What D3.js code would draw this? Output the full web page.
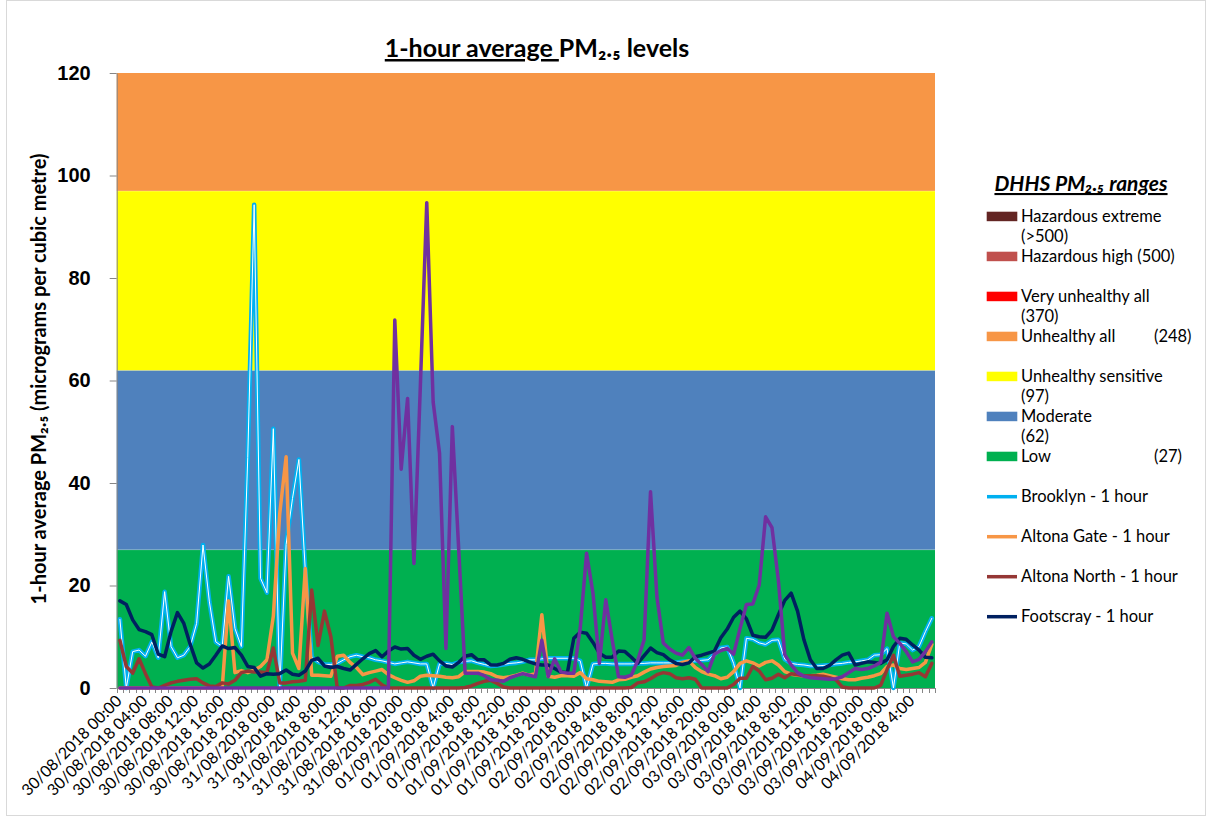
<!DOCTYPE html>
<html>
<head>
<meta charset="utf-8">
<script src="https://cdnjs.cloudflare.com/ajax/libs/d3/7.8.5/d3.min.js"></script>
<style>
    body { margin: 0; background: #fff; }
    svg { display: block; font-family: Lato, "Open Sans", sans-serif; }
    .yAxis text { font-size: 20px; font-weight: bold; fill: #000; }
    .yAxis path, .yAxis line { stroke: #868686; }
    .xTick { stroke: #868686; shape-rendering: crispEdges; }
    .xLabel { font-size: 16px; fill: #000; }
    .legend text { font-size: 16.5px; fill: #000; }
</style>
</head>
<body>
<div id="chart"></div>
<script>
    // hourly PM2.5 from 30/08/2018 00:00 (128 hours)
    var brooklyn = [13.4, 0, 7.1, 7.4, 6.2, 9.0, 5.9, 18.8, 8.1, 5.9, 6.4, 8.1, 12.6, 27.9, 16.8, 9.0,
        8.1, 21.8, 11.6, 8.1, 45, 94.3, 21.4, 18.6, 50.6, 0, 28, 37, 44.6, 23, 6.0, 5.1,
        4.6, 4.6, 4.8, 5.5, 6.1, 6.4, 6.1, 5.9, 5.5, 5.3, 5.0, 4.7, 4.9, 5.1, 4.9, 4.7,
        4.7, 0, 4.7, 4.8, 4.6, 5.0, 5.2, 5.3, 4.9, 4.6, 4.3, 4.4, 4.6, 4.8, 4.9, 5.1,
        5.5, 5.5, 5.7, 5.8, 5.8, 5.8, 5.8, 5.8, 5.3, 0, 4.7, 4.8, 4.8, 4.7, 4.7, 4.7,
        4.7, 4.8, 4.8, 4.9, 4.9, 4.9, 4.9, 5.0, 5.1, 5.2, 5.3, 5.4, 5.5, 6.6, 7.8, 8.0,
        4.8, 0, 9.7, 9.5, 8.8, 8.5, 9.3, 9.4, 5.6, 4.8, 4.6, 4.5, 4.3, 4.3, 4.4, 4.5,
        4.7, 4.8, 5.0, 5.1, 5.3, 5.5, 6.4, 6.5, 7.7, 0, 8.8, 8.6, 7.4, 8.1, 11.0, 13.6];

    var altonaGate = [0, 0, 0, 0, 0, 0, 0, 0, 0, 0, 0, 0, 0, 0, 0, 0,
        0, 17.0, 3.0, 3.4, 3.0, 3.5, 4.2, 5.5, 14, 34, 45.1, 6.8, 3.8, 23.3, 2.5, 2.5,
        2.4, 2.3, 6.2, 6.4, 5.0, 4.0, 2.6, 3.0, 3.3, 3.6, 2.6, 2.0, 1.5, 1.1, 1.4, 2.3,
        2.5, 2.4, 2.3, 2.1, 2.0, 2.2, 3.2, 3.2, 3.2, 3.1, 2.8, 2.2, 2.0, 2.2, 2.5, 2.9,
        2.5, 2.8, 14.3, 2.3, 2.1, 2.4, 2.4, 2.3, 3.0, 1.8, 1.6, 1.3, 1.2, 1.1, 1.6, 1.7,
        2.1, 2.4, 3.1, 3.7, 4.0, 4.2, 4.3, 4.4, 5.0, 5.3, 4.0, 3.2, 2.7, 2.4, 1.8, 2.1,
        3.2, 4.8, 5.3, 4.9, 4.3, 5.0, 5.3, 4.5, 3.2, 2.7, 2.5, 2.4, 2.4, 2.5, 2.7, 2.4,
        2.1, 1.8, 1.6, 1.6, 1.9, 2.1, 2.4, 2.8, 4.2, 4.5, 3.8, 3.6, 3.8, 4.0, 5.0, 8.5];

    var altonaNorth = [9.3, 4.2, 2.9, 5.7, 2.8, 0.2, 0, 0.5, 1.0, 1.3, 1.5, 1.7, 1.8, 1.0, 0.4, 0.3,
        1.0, 0.8, 1.5, 3.0, 3.3, 3.1, 3.1, 3.0, 7.8, 1.0, 1.0, 1.2, 1.3, 1.5, 19.1, 8.3,
        15.0, 10.0, 0, 0, 0.5, 0.5, 0.7, 1.1, 1.7, 0.6, 0, 0, 0, 0, 0, 0,
        0, 0, 0, 0, 0, 0, 0.1, 0.4, 0.9, 1.3, 1.5, 0.9, 0.2, 0, 0, 0,
        0, 0, 0, 0, 0, 0, 0, 0, 0, 0, 0, 0, 0, 0, 0, 0,
        0.1, 1.0, 1.2, 1.8, 2.6, 3.0, 2.8, 2.0, 1.8, 2.0, 1.7, 0, 0, 0, 0, 0,
        0.7, 1.9, 1.9, 4.2, 3.3, 1.6, 1.9, 2.7, 2.0, 2.8, 2.6, 2.4, 2.4, 2.4, 2.3, 2.0,
        1.6, 0.2, 0, 0, 0, 0, 0, 0.5, 3.6, 6.4, 2.3, 2.5, 2.7, 3.0, 2.2, 4.8];

    var footscray = [17.0, 16.3, 13.3, 11.4, 11.0, 10.4, 6.6, 6.1, 11.0, 14.7, 12.6, 8.5, 4.9, 3.9, 4.7, 6.4,
        8.2, 7.7, 7.9, 6.4, 4.2, 4.0, 2.3, 2.8, 2.7, 2.8, 3.5, 2.7, 2.5, 3.3, 5.4, 5.8,
        4.3, 4.0, 4.2, 3.8, 3.5, 4.6, 5.7, 6.7, 7.3, 6.1, 7.2, 8.0, 7.6, 7.7, 6.4, 5.6,
        6.2, 6.6, 5.3, 4.3, 4.1, 5.0, 6.2, 6.5, 5.5, 5.5, 4.5, 4.5, 4.8, 5.6, 5.9, 5.6,
        5.1, 4.7, 4.5, 4.5, 3.8, 3.1, 3.0, 9.7, 10.9, 10.7, 8.9, 6.8, 6.0, 6.0, 7.2, 7.1,
        6.0, 4.8, 6.3, 7.8, 6.9, 6.5, 5.5, 4.8, 4.6, 4.9, 6.1, 6.4, 6.8, 7.2, 9.8, 11.5,
        13.8, 15.0, 13.5, 10.3, 10.0, 9.9, 11.3, 14.3, 17.1, 18.5, 15.0, 9.4, 5.5, 3.8, 3.8, 4.4,
        5.5, 6.4, 6.8, 4.5, 4.8, 5.1, 5.0, 4.8, 5.5, 8.1, 9.7, 9.5, 8.4, 7.4, 6.0, 5.9];

    // fifth station, drawn in purple, not in the legend
    var purple = [0, 0, 0, 0, 0, 0, 0, 0, 0, 0, 0, 0, 0, 0, 0, 0,
        0, 0, 0, 0, 0, 0, 0, 0, 0, 0, 0, 0, 0, 0, 0, 0,
        0, 0, 0, 0, 0, 0, 0, 0, 0, 0, 0, 71.8, 42.7, 56.5, 24.3, 59,
        94.7, 55.8, 45.8, 7.7, 51.0, 27, 2.9, 2.9, 2.9, 2.4, 1.6, 1.5, 1.3, 2.0, 2.4, 2.8,
        2.5, 2.2, 9.3, 2.2, 5.7, 3.1, 2.9, 2.9, 11.6, 26.3, 18.5, 4.8, 17.2, 9.4, 2.2, 2.1,
        2.5, 5.4, 9.4, 38.3, 17.8, 8.8, 7.6, 6.8, 6.4, 7.9, 5.8, 4.6, 3.2, 6.6, 7.3, 7.7,
        6.6, 11.6, 16.3, 16.4, 20.1, 33.4, 31.3, 21, 6.5, 4.5, 3.0, 2.3, 2.0, 1.9, 1.8, 1.7,
        1.8, 2.2, 3.0, 3.8, 3.6, 3.8, 4.3, 5.0, 14.6, 10.0, 8.7, 7.1, 5.1, 5.6, 7.1, 9.0];

    // one label every 4 hours
    var tickLabels = [
        "30/08/2018 00:00", "30/08/2018 04:00", "30/08/2018 08:00", "30/08/2018 12:00", "30/08/2018 16:00", "30/08/2018 20:00",
        "31/08/2018 0:00", "31/08/2018 4:00", "31/08/2018 8:00", "31/08/2018 12:00", "31/08/2018 16:00", "31/08/2018 20:00",
        "01/09/2018 0:00", "01/09/2018 4:00", "01/09/2018 8:00", "01/09/2018 12:00", "01/09/2018 16:00", "01/09/2018 20:00",
        "02/09/2018 0:00", "02/09/2018 4:00", "02/09/2018 8:00", "02/09/2018 12:00", "02/09/2018 16:00", "02/09/2018 20:00",
        "03/09/2018 0:00", "03/09/2018 4:00", "03/09/2018 8:00", "03/09/2018 12:00", "03/09/2018 16:00", "03/09/2018 20:00",
        "04/09/2018 0:00", "04/09/2018 4:00"];

    // DHHS bands drawn behind the lines
    var bandNames = ["Low", "Moderate", "Unhealthy sensitive", "Unhealthy all"];
    var bandLower = [0, 27, 62, 97];
    var bandUpper = [27, 62, 97, 248];

    var legendRanges = [
        ["Hazardous extreme", "(>500)"],
        ["Hazardous high (500)"],
        ["Very unhealthy all", "(370)"],
        ["Unhealthy all", "(248)"],
        ["Unhealthy sensitive", "(97)"],
        ["Moderate", "(62)"],
        ["Low", "(27)"]];
    var seriesNames = ["Brooklyn - 1 hour", "Altona Gate - 1 hour", "Altona North - 1 hour", "Footscray - 1 hour"];

    var bandColors = ["#00B050", "#4F81BD", "#FFFF00", "#F79646"];
    var legendColors = ["#632523", "#C0504D", "#FF0000", "#F79646", "#FFFF00", "#4F81BD", "#00B050"];
    var lineColors = ["#00B0F0", "#F79646", "#953735", "#002060"];

    var width = 1208, height = 818;
    var plot = { left: 116.7, right: 935, top: 73, bottom: 688 };

    var svg = d3.select("#chart").append("svg")
        .attr("width", width)
        .attr("height", height);

    // chart border
    svg.append("rect")
        .attr("x", 6.5).attr("y", 0.5)
        .attr("width", width - 9).attr("height", height - 3)
        .attr("fill", "#fff")
        .attr("stroke", "#D9D9D9");

    var x = d3.scaleBand().domain(d3.range(brooklyn.length)).range([plot.left, plot.right]);
    var cx = function (i) { return x(i) + x.bandwidth() / 2; };
    var y = d3.scaleLinear().domain([0, 120]).range([plot.bottom, plot.top]);

    // coloured bands
    var bands = svg.append("g").attr("class", "bands");
    bandNames.forEach(function (name, k) {
        var top = y(Math.min(bandUpper[k], 120));
        bands.append("rect")
            .attr("x", plot.left)
            .attr("y", top)
            .attr("width", plot.right - plot.left)
            .attr("height", y(bandLower[k]) - top)
            .attr("fill", bandColors[k]);
        if (bandUpper[k] < 120) {
            bands.append("line")
                .attr("x1", plot.left).attr("x2", plot.right)
                .attr("y1", top).attr("y2", top)
                .attr("stroke", "rgba(255,255,255,0.45)")
                .attr("stroke-width", 1);
        }
    });

    // y axis
    svg.append("g")
        .attr("class", "yAxis")
        .attr("transform", "translate(" + plot.left + ",0)")
        .call(d3.axisLeft(y).tickValues(d3.range(0, 121, 20)).tickSize(7).tickPadding(19).tickSizeOuter(0));

    // x axis with a tick at every category boundary
    svg.append("line")
        .attr("class", "xTick")
        .attr("x1", plot.left).attr("x2", plot.right)
        .attr("y1", plot.bottom).attr("y2", plot.bottom);
    var bounds = d3.range(brooklyn.length).map(function (i) { return x(i); }).concat([plot.right]);
    svg.append("g").selectAll("line")
        .data(bounds)
        .enter().append("line")
        .attr("class", "xTick")
        .attr("x1", function (d) { return Math.round(d) + 0.5; })
        .attr("x2", function (d) { return Math.round(d) + 0.5; })
        .attr("y1", plot.bottom)
        .attr("y2", plot.bottom + 5);

    svg.append("g").selectAll("text")
        .data(tickLabels)
        .enter().append("text")
        .attr("class", "xLabel")
        .attr("text-anchor", "end")
        .attr("transform", function (d, j) {
            return "translate(" + (cx(j * 4) + 3) + "," + (plot.bottom + 14) + ") rotate(-45)";
        })
        .text(function (d) { return d; });

    // lines
    var line = d3.line()
        .x(function (d, i) { return cx(i); })
        .y(function (d) { return y(d); });

    var lines = svg.append("g").attr("fill", "none")
        .attr("stroke-linejoin", "round")
        .attr("stroke-linecap", "round");

    lines.append("path").attr("d", line(brooklyn)).attr("stroke", lineColors[0]).attr("stroke-width", 4.5);
    lines.append("path").attr("d", line(brooklyn)).attr("stroke", "#fff").attr("stroke-width", 1);
    lines.append("path").attr("d", line(altonaGate)).attr("stroke", lineColors[1]).attr("stroke-width", 3.5);
    lines.append("path").attr("d", line(altonaNorth)).attr("stroke", lineColors[2]).attr("stroke-width", 3.5);
    lines.append("path").attr("d", line(footscray)).attr("stroke", lineColors[3]).attr("stroke-width", 3.5);
    lines.append("path").attr("d", line(purple)).attr("stroke", "#7030A0").attr("stroke-width", 3.5);

    // title
    var title = svg.append("text")
        .attr("x", 537).attr("y", 57)
        .attr("text-anchor", "middle")
        .style("font-size", "25px")
        .style("font-weight", "bold");
    title.append("tspan").style("text-decoration", "underline").text("1-hour average ");
    title.append("tspan").text("PM\u2082.\u2085 levels");

    // y axis title
    svg.append("text")
        .attr("transform", "translate(46,379) rotate(-90)")
        .attr("text-anchor", "middle")
        .style("font-size", "20px")
        .style("font-weight", "bold")
        .text("1-hour average PM\u2082.\u2085 (micrograms per cubic metre)");

    // legend
    var legend = svg.append("g").attr("class", "legend");
    legend.append("text")
        .attr("x", 1081).attr("y", 191)
        .attr("text-anchor", "middle")
        .style("font-size", "21px")
        .style("font-weight", "bold")
        .style("font-style", "italic")
        .style("text-decoration", "underline")
        .text("DHHS PM\u2082.\u2085 ranges");

    var rowY = function (k) { return 221.7 + k * 40; };
    legendRanges.forEach(function (rows, k) {
        legend.append("rect")
            .attr("x", 986.7).attr("y", rowY(k) - 10)
            .attr("width", 30.6).attr("height", 9.5)
            .attr("fill", legendColors[k]);
        if (rows[0] === "Unhealthy all" || rows[0] === "Low") {
            legend.append("text").attr("x", 1021).attr("y", rowY(k)).text(rows[0]);
            legend.append("text").attr("x", 1154).attr("y", rowY(k)).text(rows[1]);
        } else {
            rows.forEach(function (r, n) {
                legend.append("text").attr("x", 1021).attr("y", rowY(k) + n * 20).text(r);
            });
        }
    });
    seriesNames.forEach(function (name, k) {
        var ry = rowY(k + legendRanges.length);
        legend.append("line")
            .attr("x1", 987).attr("x2", 1017)
            .attr("y1", ry - 5).attr("y2", ry - 5)
            .attr("stroke", lineColors[k])
            .attr("stroke-width", 3.5);
        legend.append("text").attr("x", 1021).attr("y", ry).text(name);
    });
</script>
</body>
</html>
